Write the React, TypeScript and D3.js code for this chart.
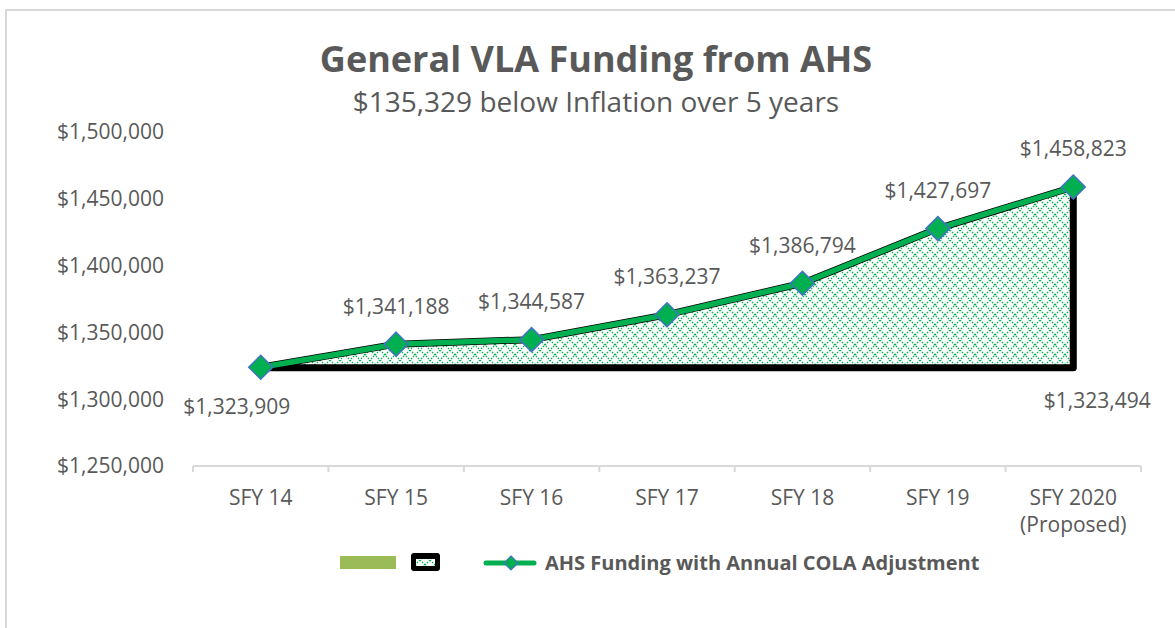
import React from "react";
import * as d3 from "d3";

const categories: string[][] = [
  ["SFY 14"],
  ["SFY 15"],
  ["SFY 16"],
  ["SFY 17"],
  ["SFY 18"],
  ["SFY 19"],
  ["SFY 2020", "(Proposed)"],
];
const fundingValues: number[] = [1323909, 1341188, 1344587, 1363237, 1386794, 1427697, 1458823];
const baselineValue = 1323494;
const yTicks: number[] = [1250000, 1300000, 1350000, 1400000, 1450000, 1500000];
const titleText = "General VLA Funding from AHS";
const subtitleText = "$135,329 below Inflation over 5 years";
const legendText = "AHS Funding with Annual COLA Adjustment";

const W = 1175;
const H = 628;
const FONT = "'Open Sans', 'Noto Sans', sans-serif";
const TXT = "#595959";
const GREEN = "#00B050";

const fmt = (v: number) => "$" + d3.format(",")(v);

export default function App() {
  const x = d3
    .scaleBand<number>()
    .domain(d3.range(categories.length))
    .range([193, 1141])
    .padding(0);
  const cx = (i: number) => (x(i) as number) + x.bandwidth() / 2;
  const y = d3.scaleLinear().domain([1250000, 1500000]).range([466, 132]);

  const area = d3
    .area<number>()
    .x((_, i) => cx(i))
    .y0(() => y(baselineValue))
    .y1((d) => y(d));
  const line = d3
    .line<number>()
    .x((_, i) => cx(i))
    .y((d) => y(d));

  const diamond = (px: number, py: number, r: number) =>
    `M${px},${py - r}L${px + r},${py}L${px},${py + r}L${px - r},${py}Z`;

  const last = fundingValues.length - 1;

  return (
    <svg
      width={W}
      height={H}
      style={{ position: "absolute", left: 0, top: 0, background: "#fff" }}
      fontFamily={FONT}
    >
      <defs>
        <pattern id="dia" width={10} height={10} patternUnits="userSpaceOnUse">
          <rect width={10} height={10} fill="#fff" />
          <path
            d="M0,0L10,10M10,0L0,10"
            stroke={GREEN}
            strokeWidth={1.2}
            strokeDasharray="1.5 1.3"
          />
        </pattern>
      </defs>
      <rect x={6} y={10} width={W + 20} height={H + 20} fill="#fff" stroke="#d9d9d9" strokeWidth={2} />

      {/* title */}
      <text x={596} y={72} textAnchor="middle" fontSize={36} fontWeight="bold" fill={TXT}>
        {titleText}
      </text>
      <text x={596} y={112} textAnchor="middle" fontSize={28} fill={TXT}>
        {subtitleText}
      </text>

      {/* y tick labels */}
      {yTicks.map((t) => (
        <text key={t} x={164} y={y(t)} dy="0.35em" textAnchor="end" fontSize={21} fill={TXT}>
          {fmt(t)}
        </text>
      ))}

      {/* x axis */}
      <line x1={193} x2={1141} y1={466} y2={466} stroke="#d9d9d9" strokeWidth={2} />
      {d3.range(categories.length + 1).map((i) => {
        const px = i < categories.length ? (x(i) as number) : 1141;
        return <line key={i} x1={px} x2={px} y1={466} y2={472} stroke="#d9d9d9" strokeWidth={2} />;
      })}
      {categories.map((lines, i) => (
        <text key={i} x={cx(i)} y={505} textAnchor="middle" fontSize={21} fill={TXT}>
          {lines.map((l, j) => (
            <tspan key={j} x={cx(i)} dy={j === 0 ? 0 : 27}>
              {l}
            </tspan>
          ))}
        </text>
      ))}

      {/* area */}
      <path
        d={area(fundingValues) || ""}
        fill="url(#dia)"
        stroke="#000"
        strokeWidth={7}
        strokeLinejoin="round"
      />
      {/* line */}
      <path d={line(fundingValues) || ""} fill="none" stroke={GREEN} strokeWidth={5.5} strokeLinejoin="round" />
      {fundingValues.map((v, i) => (
        <path key={i} d={diamond(cx(i), y(v), 12)} fill={GREEN} stroke="#4472C4" strokeWidth={1.5} />
      ))}

      {/* data labels */}
      {fundingValues.map((v, i) =>
        i === 0 ? (
          <text key={i} x={cx(i) - 24} y={y(v) + 39} dy="0.35em" textAnchor="middle" fontSize={21} fill={TXT}>
            {fmt(v)}
          </text>
        ) : (
          <text key={i} x={cx(i)} y={y(v) - 38} dy="0.35em" textAnchor="middle" fontSize={21} fill={TXT}>
            {fmt(v)}
          </text>
        )
      )}
      <text x={cx(last) + 24} y={y(baselineValue) + 33} dy="0.35em" textAnchor="middle" fontSize={21} fill={TXT}>
        {fmt(baselineValue)}
      </text>

      {/* legend */}
      <rect x={340} y={556} width={56} height={13} fill="#9BBB59" />
      <rect x={411} y={553} width={29} height={18} rx={3} fill="#000" />
      <rect x={416} y={559} width={19} height={7} fill="url(#dia)" />
      <line x1={486} x2={534} y1={563} y2={563} stroke={GREEN} strokeWidth={5} strokeLinecap="round" />
      <path d={diamond(511, 563, 7)} fill={GREEN} stroke="#4472C4" strokeWidth={1.2} />
      <text x={545} y={563} dy="0.35em" fontSize={20} fontWeight="bold" fill={TXT}>
        {legendText}
      </text>
    </svg>
  );
}
